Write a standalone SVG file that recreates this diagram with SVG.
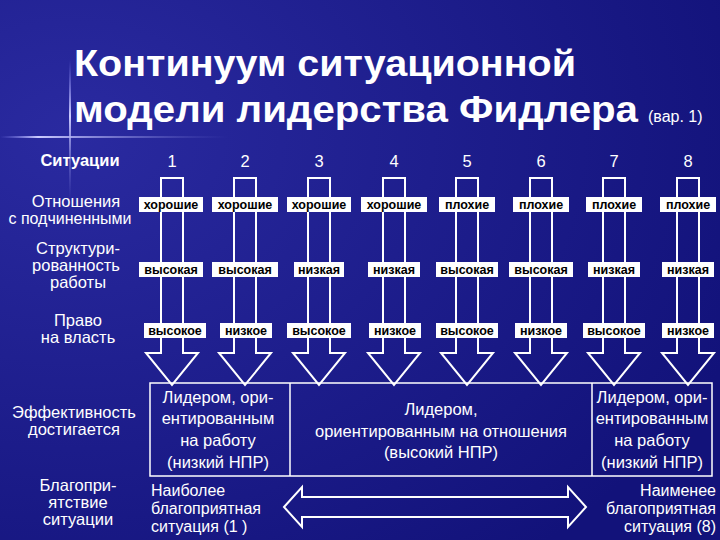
<svg xmlns="http://www.w3.org/2000/svg" width="720" height="540" viewBox="0 0 720 540">
<defs>
<radialGradient id="bg" cx="0.1" cy="0.25" r="1"><stop offset="0" stop-color="#2a2aa0"/><stop offset="1" stop-color="#12127a"/></radialGradient>
<linearGradient id="hl" x1="0" x2="1"><stop offset="0" stop-color="#8888ff" stop-opacity="0"/><stop offset="0.1" stop-color="#ccccff"/><stop offset="0.6" stop-color="#6666cc" stop-opacity="0"/></linearGradient>
<linearGradient id="vl" x1="0" x2="0" y1="0" y2="1"><stop offset="0" stop-color="#8888ff" stop-opacity="0"/><stop offset="0.4" stop-color="#ccccff"/><stop offset="1" stop-color="#6666cc" stop-opacity="0"/></linearGradient>
<path id="ar" d="M-11,38 H11 V213 H26 L0,245 L-26,213 H-11 Z"/>
</defs>
<style>
.t{font-family:"Liberation Sans",Arial,sans-serif;fill:#fff}
.a{fill:none;stroke:#fff;stroke-width:2}
.lb{fill:#fff}
.l{font-family:"Liberation Sans",Arial,sans-serif;font-size:12.5px;font-weight:bold;fill:#000;text-anchor:middle}
.r{font-size:16.5px;text-anchor:middle}
</style>
<rect width="720" height="540" fill="url(#bg)"/>
<rect x="0" y="136" width="380" height="2" fill="url(#hl)"/>
<rect x="69" y="60" width="2" height="140" fill="url(#vl)"/>
<g id="title" class="t" font-weight="bold" font-size="36">
<text x="74" y="76" textLength="502" lengthAdjust="spacingAndGlyphs">Континуум ситуационной</text>
<text x="74" y="122"><tspan textLength="564" lengthAdjust="spacingAndGlyphs">модели лидерства Фидлера</tspan> <tspan font-size="16" font-weight="normal">(вар. 1)</tspan></text>
</g>
<g id="rowlabels" class="t r">
<text x="80" y="166" font-weight="bold">Ситуации</text>
<text x="76" y="207">Отношения</text><text x="70" y="224" font-size="16">с подчиненными</text>
<text x="78" y="254">Структури-</text><text x="76" y="271">рованность</text><text x="78" y="288">работы</text>
<text x="78" y="326">Право</text><text x="78" y="343">на власть</text>
<text x="74" y="418">Эффективность</text><text x="74" y="435">достигается</text>
<text x="78" y="491">Благопри-</text><text x="78" y="508">ятствие</text><text x="78" y="525">ситуации</text>
</g>
<g id="connectors">
<use href="#ar" class="a" x="172" y="140"/>
<use href="#ar" class="a" x="245" y="140"/>
<use href="#ar" class="a" x="319" y="140"/>
<use href="#ar" class="a" x="394" y="140"/>
<use href="#ar" class="a" x="467" y="140"/>
<use href="#ar" class="a" x="541" y="140"/>
<use href="#ar" class="a" x="614" y="140"/>
<use href="#ar" class="a" x="688" y="140"/>
<path class="a" d="M284,507 L302,487 V497 H568 V487 L586,507 L568,527 V517 H302 V527 Z"/>
</g>
<g id="cols">
<g class="t r" font-size="17"><text x="172" y="167">1</text><text x="245" y="167">2</text><text x="319" y="167">3</text><text x="394" y="167">4</text><text x="467" y="167">5</text><text x="541" y="167">6</text><text x="614" y="167">7</text><text x="688" y="167">8</text></g>
<g class="lb">
<rect x="139" y="197" width="64" height="15"/><rect x="212" y="197" width="66" height="15"/><rect x="287" y="197" width="64" height="15"/><rect x="361" y="197" width="66" height="15"/><rect x="439" y="197" width="56" height="15"/><rect x="513" y="197" width="56" height="15"/><rect x="586" y="197" width="56" height="15"/><rect x="660" y="197" width="56" height="15"/>
<rect x="139" y="262" width="64" height="15"/><rect x="212" y="262" width="66" height="15"/><rect x="294" y="262" width="50" height="15"/><rect x="368" y="262" width="52" height="15"/><rect x="436" y="262" width="62" height="15"/><rect x="509" y="262" width="64" height="15"/><rect x="588" y="262" width="52" height="15"/><rect x="662" y="262" width="52" height="15"/>
<rect x="144" y="323" width="62" height="15"/><rect x="220" y="323" width="52" height="15"/><rect x="287" y="323" width="64" height="15"/><rect x="369" y="323" width="52" height="15"/><rect x="436" y="323" width="62" height="15"/><rect x="515" y="323" width="52" height="15"/><rect x="583" y="323" width="62" height="15"/><rect x="662" y="323" width="52" height="15"/>
</g>
<g class="l">
<text x="171" y="209">хорошие</text><text x="245" y="209">хорошие</text><text x="319" y="209">хорошие</text><text x="394" y="209">хорошие</text><text x="467" y="209">плохие</text><text x="541" y="209">плохие</text><text x="614" y="209">плохие</text><text x="688" y="209">плохие</text>
<text x="171" y="274">высокая</text><text x="245" y="274">высокая</text><text x="319" y="274">низкая</text><text x="394" y="274">низкая</text><text x="467" y="274">высокая</text><text x="541" y="274">высокая</text><text x="614" y="274">низкая</text><text x="688" y="274">низкая</text>
<text x="175" y="335">высокое</text><text x="246" y="335">низкое</text><text x="319" y="335">высокое</text><text x="395" y="335">низкое</text><text x="467" y="335">высокое</text><text x="541" y="335">низкое</text><text x="614" y="335">высокое</text><text x="688" y="335">низкое</text>
</g>
</g>
<g id="table">
<rect x="150" y="383" width="562" height="93" fill="none" stroke="#fff" stroke-width="1.5"/>
<line x1="290" y1="383" x2="290" y2="476" stroke="#fff" stroke-width="1.5"/>
<line x1="592" y1="383" x2="592" y2="476" stroke="#fff" stroke-width="1.5"/>
<g class="t r">
<text x="218" y="403">Лидером, ори-</text><text x="218" y="424">ентированным</text><text x="218" y="446">на работу</text><text x="218" y="468">(низкий НПР)</text>
<text x="441" y="415">Лидером,</text><text x="441" y="437">ориентированным на отношения</text><text x="441" y="458">(высокий НПР)</text>
<text x="652" y="403">Лидером, ори-</text><text x="652" y="424">ентированным</text><text x="652" y="446">на работу</text><text x="652" y="468">(низкий НПР)</text>
</g>
</g>
<g id="ends" class="t" font-size="16">
<text x="151" y="496">Наиболее</text><text x="151" y="514">благоприятная</text><text x="151" y="532">ситуация (1 )</text>
<g text-anchor="end"><text x="716" y="496">Наименее</text><text x="716" y="514">благоприятная</text><text x="716" y="532">ситуация (8)</text></g>
</g>
</svg>
